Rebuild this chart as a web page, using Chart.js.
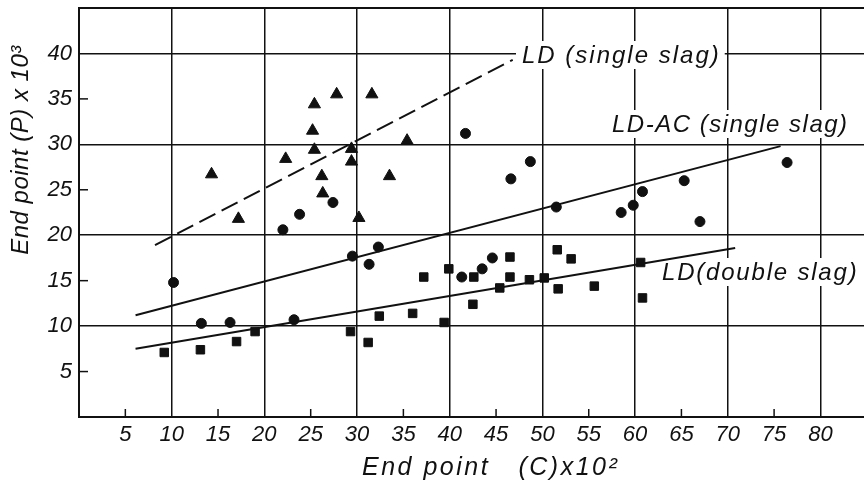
<!DOCTYPE html>
<html>
<head>
<meta charset="utf-8">
<script src="https://cdn.jsdelivr.net/npm/chart.js@4.4.1/dist/chart.umd.min.js"></script>
<style>
  html, body { margin: 0; padding: 0; background: #fff; }
  canvas { display: block; }
</style>
</head>
<body>
<canvas id="chart" width="864" height="481"></canvas>
<script>
// tick labels
const xTickLabels = [5, 10, 15, 20, 25, 30, 35, 40, 45, 50, 55, 60, 65, 70, 75, 80];
const yTickLabels = [5, 10, 15, 20, 25, 30, 35, 40];

// LD (single slag) - triangles
const ldSingleX = [14.3, 22.3, 25.4, 27.8, 31.6, 25.2, 25.4, 29.4, 29.4, 35.4, 26.2, 33.5, 26.3, 30.2, 17.2];
const ldSingleY = [26.7, 28.4, 34.4, 35.5, 35.5, 31.5, 29.4, 29.5, 28.1, 30.4, 26.5, 26.5, 24.6, 21.9, 21.8];

// LD-AC (single slag) - circles
const ldacX = [27.4, 23.8, 22.0, 41.7, 10.2, 29.5, 32.3, 31.3, 13.2, 16.3, 23.2, 48.7, 46.6, 76.4, 65.3, 60.8, 59.8, 58.5, 51.5, 67.0, 41.3, 43.5, 44.6];
const ldacY = [23.6, 22.3, 20.6, 31.2, 14.8, 17.7, 18.7, 16.8, 10.3, 10.4, 10.7, 28.1, 26.2, 28.0, 26.0, 24.8, 23.3, 22.5, 23.1, 21.5, 15.4, 16.3, 17.5];

// LD (double slag) - squares
const ldDoubleX = [9.2, 13.1, 17.0, 19.0, 29.3, 31.2, 32.4, 36.0, 37.2, 39.4, 39.9, 42.6, 42.5, 45.4, 46.5, 46.5, 48.6, 50.2, 51.6, 53.1, 51.7, 55.6, 60.6, 60.8];
const ldDoubleY = [7.1, 7.4, 8.3, 9.4, 9.4, 8.2, 11.1, 11.4, 15.4, 10.4, 16.3, 15.4, 12.4, 14.2, 17.6, 15.4, 15.1, 15.3, 18.4, 17.4, 14.1, 14.4, 17.0, 13.1];

// fitted lines (end points)
const ldSingleFitX = [8.2, 46.8];
const ldSingleFitY = [18.9, 39.3];
const ldacFitX = [6.1, 75.7];
const ldacFitY = [11.2, 29.8];
const ldDoubleFitX = [6.1, 70.8];
const ldDoubleFitY = [7.5, 18.6];

const zip = (xs, ys) => xs.map((x, i) => ({ x: x, y: ys[i] }));

const INK = '#111';
const FONT = '"Liberation Sans", Arial, sans-serif';

const curveLabels = [
  { text: 'LD (single slag)', x: 522, y: 63, spacing: 2 },
  { text: 'LD-AC (single slag)', x: 612, y: 132, spacing: 1.5 },
  { text: 'LD(double slag)', x: 662, y: 280, spacing: 1.8 }
];

const paperPlugin = {
  id: 'paper',
  beforeDraw(chart) {
    const c = chart.ctx;
    c.save();
    c.fillStyle = '#fff';
    c.fillRect(0, 0, chart.width, chart.height);
    c.restore();
  },
  beforeDatasetsDraw(chart) {
    const c = chart.ctx;
    c.save();
    c.font = 'italic 24px ' + FONT;
    c.fillStyle = '#fff';
    curveLabels.forEach(l => {
      c.letterSpacing = l.spacing + 'px';
      const w = c.measureText(l.text).width;
      c.fillRect(l.x - 6, l.y - 22, w + 10, 28);
    });
    c.restore();
  },
  afterDraw(chart) {
    const c = chart.ctx;
    const xs = chart.scales.x, ys = chart.scales.y;
    const area = chart.chartArea;
    c.save();
    c.strokeStyle = INK;
    // top frame line
    c.lineWidth = 2;
    c.beginPath();
    c.moveTo(area.left, area.top);
    c.lineTo(area.right, area.top);
    c.stroke();
    // short inner ticks at the odd fives
    c.lineWidth = 1.5;
    xTickLabels.filter(v => v % 10 !== 0).forEach(v => {
      const px = xs.getPixelForValue(v);
      c.beginPath();
      c.moveTo(px, area.bottom);
      c.lineTo(px, area.bottom - 8);
      c.stroke();
    });
    yTickLabels.filter(v => v % 10 !== 0).forEach(v => {
      const py = ys.getPixelForValue(v);
      c.beginPath();
      c.moveTo(area.left, py);
      c.lineTo(area.left + 9, py);
      c.stroke();
    });
    // curve labels
    c.fillStyle = INK;
    c.font = 'italic 24px ' + FONT;
    c.textAlign = 'left';
    c.textBaseline = 'alphabetic';
    curveLabels.forEach(l => {
      c.letterSpacing = l.spacing + 'px';
      c.fillText(l.text, l.x, l.y);
    });
    // axis titles
    c.font = 'italic 25px ' + FONT;
    c.letterSpacing = '2.5px';
    c.fillText('End point   (C)x10\u00B2', 362, 475);
    c.save();
    c.translate(28, 150);
    c.rotate(-Math.PI / 2);
    c.textAlign = 'center';
    c.font = 'italic 24px ' + FONT;
    c.letterSpacing = '0.5px';
    c.fillText('End point (P) x 10\u00B3', 0, 0);
    c.restore();
    c.restore();
  }
};

const pointSet = (label, xs, ys, style, r) => ({
  label: label,
  data: zip(xs, ys),
  pointStyle: style,
  pointRadius: r,
  pointHoverRadius: r,
  backgroundColor: INK,
  borderColor: INK,
  borderWidth: 1,
  showLine: false
});

const lineSet = (label, xs, ys, dash) => ({
  label: label,
  data: zip(xs, ys),
  showLine: true,
  pointRadius: 0,
  borderColor: INK,
  borderWidth: 2,
  borderDash: dash,
  fill: false
});

const ctx = document.getElementById('chart').getContext('2d');
const myChart = new Chart(ctx, {
  type: 'scatter',
  data: {
    datasets: [
      lineSet('LD (single slag) fit', ldSingleFitX, ldSingleFitY, [18, 7]),
      lineSet('LD-AC (single slag) fit', ldacFitX, ldacFitY, []),
      lineSet('LD (double slag) fit', ldDoubleFitX, ldDoubleFitY, []),
      pointSet('LD (single slag)', ldSingleX, ldSingleY, 'triangle', 7),
      pointSet('LD-AC (single slag)', ldacX, ldacY, 'circle', 5),
      pointSet('LD (double slag)', ldDoubleX, ldDoubleY, 'rect', 6)
    ]
  },
  options: {
    responsive: false,
    animation: false,
    devicePixelRatio: 1,
    layout: { autoPadding: false, padding: { top: 8, right: 0, left: 0, bottom: 0 } },
    plugins: {
      legend: { display: false },
      tooltip: { enabled: false }
    },
    scales: {
      x: {
        type: 'linear',
        min: 0,
        max: 84.7,
        afterFit: s => { s.height = 64; s.paddingLeft = 0; s.paddingRight = 0; },
        afterBuildTicks: s => { s.ticks = [0].concat(xTickLabels).concat([84.7]).map(v => ({ value: v })); },
        ticks: {
          autoSkip: false,
          maxRotation: 0,
          padding: 5,
          color: INK,
          font: { family: FONT, size: 22, style: 'italic' },
          callback: v => (xTickLabels.includes(v) ? String(v) : '')
        },
        grid: {
          drawTicks: false,
          lineWidth: 1.5,
          color: c => (c.tick && c.tick.value % 10 === 0 && c.tick.value > 0 && c.tick.value <= 80 ? INK : 'rgba(0,0,0,0)')
        },
        border: { display: true, color: INK, width: 2 }
      },
      y: {
        type: 'linear',
        min: 0,
        max: 45,
        afterFit: s => { s.width = 79; s.paddingTop = 0; s.paddingBottom = 0; },
        afterBuildTicks: s => { s.ticks = [0].concat(yTickLabels).concat([45]).map(v => ({ value: v })); },
        ticks: {
          autoSkip: false,
          padding: 7,
          color: INK,
          font: { family: FONT, size: 22, style: 'italic' },
          callback: v => (yTickLabels.includes(v) ? String(v) : '')
        },
        grid: {
          drawTicks: false,
          lineWidth: 1.5,
          color: c => (c.tick && c.tick.value % 10 === 0 && c.tick.value > 0 ? INK : 'rgba(0,0,0,0)')
        },
        border: { display: true, color: INK, width: 2 }
      }
    }
  },
  plugins: [paperPlugin]
});
</script>
</body>
</html>
